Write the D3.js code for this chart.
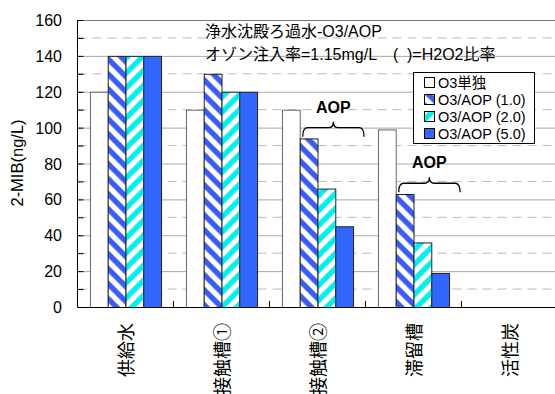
<!DOCTYPE html>
<html><head><meta charset="utf-8">
<script src="https://cdn.jsdelivr.net/npm/d3@7"></script>
<style>
body{margin:0;background:#fff;}
text{font-family:"Liberation Sans","Noto Sans CJK JP",sans-serif;}
</style></head>
<body><svg id="c" width="555" height="394"></svg>
<script>
const categories = ["供給水","接触槽①","接触槽②","滞留槽","活性炭"];
const seriesNames = ["O3単独","O3/AOP (1.0)","O3/AOP (2.0)","O3/AOP (5.0)"];
const o3Only  = [120,110,110,99,null];
const aop10   = [140,130,94,63,null];
const aop20   = [140,120,66,36,null];
const aop50   = [140,120,45,19,null];
const yTicks  = [0,20,40,60,80,100,120,140,160];
const titleLine1 = "浄水沈殿ろ過水-O3/AOP";
const titleLine2a = "オゾン注入率=1.15mg/L";
const titleLine2b = "(";
const titleLine2c = ")=H2O2比率";
const yLabel = "2-MIB(ng/L)";
const annotations = [{cat:"接触槽②", y:100, label:"AOP"},{cat:"滞留槽", y:69, label:"AOP"}];

const seriesValues = [o3Only, aop10, aop20, aop50];
const svg = d3.select("#c");
const L = 77.5, T = 20, B = 307, R = 557.5;

const x0 = d3.scaleBand().domain(categories).range([L, R]).paddingInner(0).paddingOuter(0);
const x1 = d3.scaleBand().domain(d3.range(4)).range([0, x0.bandwidth()]).paddingInner(0).paddingOuter(0.7);
const y = d3.scaleLinear().domain([0,160]).range([B, T]);

const defs = svg.append("defs");
function stripe(id, color, angle){
  const p = defs.append("pattern").attr("id", id).attr("patternUnits","userSpaceOnUse")
    .attr("width", 10.6).attr("height", 10.6).attr("patternTransform", `rotate(${angle})`);
  p.append("rect").attr("width",10.6).attr("height",10.6).attr("fill","#fff");
  p.append("rect").attr("x",0.3).attr("width",5.4).attr("height",10.6).attr("fill",color);
}
stripe("h1","#3a5cf0",-45);
stripe("h2","#00f0f0",45);
const fills = ["#ffffff","url(#h1)","url(#h2)","#3366ff"];

// grid
const minor = d3.range(10,160,20);
svg.append("g").selectAll("line").data(minor).join("line")
  .attr("x1",L).attr("x2",R).attr("y1",d=>y(d)).attr("y2",d=>y(d))
  .attr("stroke","#bbb").attr("stroke-dasharray","9,6").attr("stroke-width",1);
svg.append("g").selectAll("line").data(yTicks.filter(d=>d>0)).join("line")
  .attr("x1",L).attr("x2",R).attr("y1",d=>y(d)+0.5).attr("y2",d=>y(d)+0.5)
  .attr("stroke",d=>d===160?"#777":"#aaa").attr("stroke-width",1);

// bars
const data = [];
categories.forEach((c,i)=>seriesValues.forEach((s,j)=>{ if(s[i]!=null) data.push({c, j, v:s[i]}); }));
svg.append("g").selectAll("rect").data(data).join("rect")
  .attr("x",d=>x0(d.c)+x1(d.j)+0.5).attr("width",x1.bandwidth())
  .attr("y",d=>y(d.v)+0.5).attr("height",d=>B-y(d.v))
  .attr("fill",d=>fills[d.j]).attr("stroke",d=>d.j===0?"#666":"#222").attr("stroke-width",1);

// axes
const yAxis = svg.append("g");
yAxis.append("line").attr("x1",L).attr("x2",L).attr("y1",T).attr("y2",B).attr("stroke","#000");
yAxis.selectAll("line.t").data(d3.range(0,161,10)).join("line").attr("class","t")
  .attr("x1",L).attr("x2",L+6).attr("y1",d=>y(d)+0.5).attr("y2",d=>y(d)+0.5).attr("stroke","#000");
yAxis.selectAll("text").data(yTicks).join("text")
  .attr("x",62).attr("y",d=>y(d)+6).attr("text-anchor","end").attr("font-size",16).text(d=>d);
svg.append("line").attr("x1",L).attr("x2",R).attr("y1",B+0.5).attr("y2",B+0.5).attr("stroke","#000");
svg.append("g").selectAll("line").data(categories.slice(1)).join("line")
  .attr("x1",d=>x0(d)).attr("x2",d=>x0(d)).attr("y1",B).attr("y2",B-6).attr("stroke","#000");

// category labels (rotated -90, reading bottom to top)
svg.append("g").selectAll("text").data(categories).join("text")
  .attr("transform",d=>`translate(${x0(d)+x0.bandwidth()/2-1},323) rotate(-90)`)
  .attr("text-anchor","end").attr("dominant-baseline","central")
  .attr("font-size",18).style("font-family","'Noto Sans CJK JP'")
  .text(d=>d);

// y label
svg.append("text").attr("transform","translate(23,163) rotate(-90)").attr("text-anchor","middle")
  .attr("font-size",16.5).text(yLabel);

// titles
svg.append("text").attr("x",205).attr("y",37).attr("font-size",16).text(titleLine1);
svg.append("text").attr("x",205).attr("y",60).attr("font-size",16).text(titleLine2a);
svg.append("text").attr("x",393).attr("y",60).attr("font-size",16).text(titleLine2b);
svg.append("text").attr("x",407).attr("y",60).attr("font-size",16).text(titleLine2c);

// legend
const lg = svg.append("g");
lg.append("rect").attr("x",413.5).attr("y",72.5).attr("width",121).attr("height",71).attr("fill","#fff").attr("stroke","#000");
seriesNames.forEach((n,i)=>{
  const cy = 83 + i*17;
  lg.append("rect").attr("x",424.5).attr("y",cy-5.5).attr("width",10).attr("height",10)
    .attr("fill",fills[i]).attr("stroke","#000");
  lg.append("text").attr("x",438).attr("y",cy+5).attr("font-size",14.5).text(n);
});

// annotations (braces)
annotations.forEach(a=>{
  const xa = x0(a.cat)+x1(1)+3, xb = x0(a.cat)+x1(3)+x1.bandwidth()+11, xm=(xa+xb)/2;
  const yb = y(a.y);
  const p = d3.path();
  p.moveTo(xa, yb+9); p.quadraticCurveTo(xa, yb, xa+5, yb);
  p.lineTo(xm-5, yb); p.quadraticCurveTo(xm, yb, xm, yb-6);
  p.quadraticCurveTo(xm, yb, xm+5, yb); p.lineTo(xb-5, yb);
  p.quadraticCurveTo(xb, yb, xb, yb+9);
  svg.append("path").attr("d",p.toString()).attr("fill","none").attr("stroke","#000").attr("stroke-width",1.3);
  svg.append("text").attr("x",xm).attr("y",yb-15).attr("text-anchor","middle")
    .attr("font-size",16).attr("font-weight","bold").text(a.label);
});
</script></body></html>
